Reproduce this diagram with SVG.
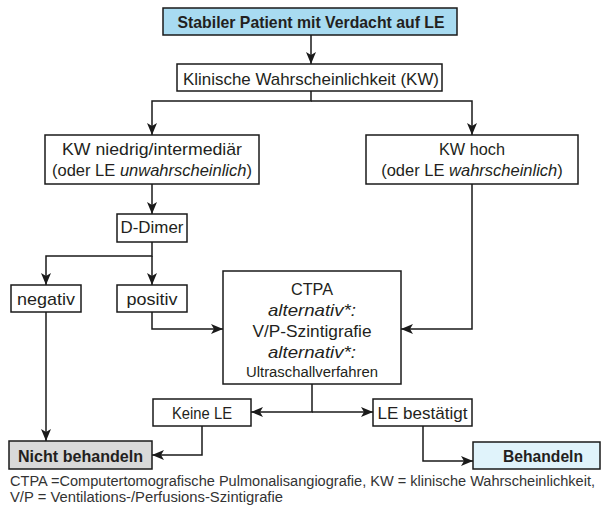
<svg xmlns="http://www.w3.org/2000/svg" width="604" height="517" viewBox="0 0 604 517">
<defs>
<marker id="arr" markerUnits="userSpaceOnUse" markerWidth="13" markerHeight="11" refX="12" refY="5" orient="auto">
<path d="M0,0 L12,5 L0,10 L3,5 z" fill="#1a1a1a"/>
</marker>
</defs>
<style>
.box{fill:#fff;stroke:#1a1a1a;stroke-width:1.5}
.blue{fill:#a8dbf1}
.lblue{fill:#e0f3fb}
.grey{fill:#d9d9d9}
text{font-family:"Liberation Sans",Arial,sans-serif;font-size:17px;fill:#231f20;text-anchor:middle}
.b{font-weight:bold}
.i{font-style:italic}
.sm{font-size:14px}
.mx{font-size:16.5px}
.fn{font-size:14px;text-anchor:start;fill:#333}
.c{fill:none;stroke:#1a1a1a;stroke-width:1.5;marker-end:url(#arr)}
</style>
<rect width="604" height="517" fill="#fff"/>
<g id="connectors">
<path class="c" d="M311,35 V64"/>
<path class="c" d="M311,91 V101 H152 V135"/>
<path class="c" d="M311,101 H472 V135"/>
<path class="c" d="M152,184 V214"/>
<path class="c" d="M152,242 V256 H46 V285"/>
<path class="c" d="M152,256 V285"/>
<path class="c" d="M46,312 V441"/>
<path class="c" d="M152,312 V329 H223"/>
<path class="c" d="M472,184 V329 H401"/>
<path class="c" d="M312,384 V412 H251"/>
<path class="c" d="M312,412 H373"/>
<path class="c" d="M202,426 V455 H152"/>
<path class="c" d="M423,426 V461 H473"/>
</g>
<g id="start">
<rect class="box blue" x="163" y="8" width="294" height="27"/>
<text class="b" x="311" y="28" textLength="267" lengthAdjust="spacingAndGlyphs">Stabiler Patient mit Verdacht auf LE</text>
</g>
<g id="kw">
<rect class="box" x="177" y="64" width="265" height="27"/>
<text x="311" y="85" textLength="256" lengthAdjust="spacingAndGlyphs">Klinische Wahrscheinlichkeit (KW)</text>
</g>
<g id="kw-niedrig">
<rect class="box" x="45" y="135" width="214" height="49"/>
<text x="152" y="155" textLength="180" lengthAdjust="spacingAndGlyphs">KW niedrig/intermediär</text>
<text class="mx" x="152" y="176">(oder LE <tspan class="i">unwahrscheinlich</tspan>)</text>
</g>
<g id="kw-hoch">
<rect class="box" x="366" y="135" width="212" height="49"/>
<text x="472" y="155" textLength="66" lengthAdjust="spacingAndGlyphs">KW hoch</text>
<text class="mx" x="472" y="176">(oder LE <tspan class="i">wahrscheinlich</tspan>)</text>
</g>
<g id="ddimer">
<rect class="box" x="117" y="214" width="70" height="28"/>
<text x="152" y="233" textLength="63" lengthAdjust="spacingAndGlyphs">D-Dimer</text>
</g>
<g id="negativ">
<rect class="box" x="11" y="285" width="70" height="27"/>
<text x="46" y="305" textLength="58" lengthAdjust="spacingAndGlyphs">negativ</text>
</g>
<g id="positiv">
<rect class="box" x="117" y="285" width="70" height="27"/>
<text x="152" y="305" textLength="51" lengthAdjust="spacingAndGlyphs">positiv</text>
</g>
<g id="ctpa">
<rect class="box" x="223" y="271" width="178" height="113"/>
<text x="312" y="295" textLength="42" lengthAdjust="spacingAndGlyphs">CTPA</text>
<text class="i" x="312" y="316" textLength="88" lengthAdjust="spacingAndGlyphs">alternativ*:</text>
<text x="312" y="337" textLength="119" lengthAdjust="spacingAndGlyphs">V/P-Szintigrafie</text>
<text class="i" x="312" y="358" textLength="88" lengthAdjust="spacingAndGlyphs">alternativ*:</text>
<text class="sm" x="312" y="377" textLength="132" lengthAdjust="spacingAndGlyphs">Ultraschallverfahren</text>
</g>
<g id="keine-le">
<rect class="box" x="153" y="399" width="98" height="27"/>
<text x="202" y="419" textLength="60" lengthAdjust="spacingAndGlyphs">Keine LE</text>
</g>
<g id="le-bestaetigt">
<rect class="box" x="373" y="399" width="99" height="27"/>
<text x="422.5" y="419" textLength="90" lengthAdjust="spacingAndGlyphs">LE bestätigt</text>
</g>
<g id="nicht-behandeln">
<rect class="box grey" x="9" y="441" width="143" height="28"/>
<text class="b" x="80.5" y="462" textLength="125" lengthAdjust="spacingAndGlyphs">Nicht behandeln</text>
</g>
<g id="behandeln">
<rect class="box lblue" x="473" y="442" width="127" height="27"/>
<text class="b" x="543" y="462" textLength="80" lengthAdjust="spacingAndGlyphs">Behandeln</text>
</g>
<g id="footnote">
<text class="fn" x="10" y="486" textLength="585" lengthAdjust="spacingAndGlyphs">CTPA =Computertomografische Pulmonalisangiografie, KW = klinische Wahrscheinlichkeit,</text>
<text class="fn" x="10" y="502" textLength="273" lengthAdjust="spacingAndGlyphs">V/P = Ventilations-/Perfusions-Szintigrafie</text>
</g>
</svg>
